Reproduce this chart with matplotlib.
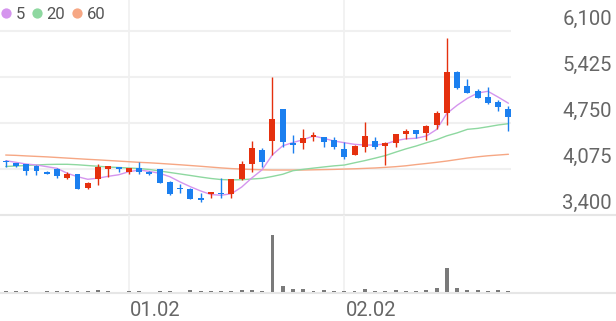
import matplotlib
matplotlib.use('Agg')
import matplotlib.pyplot as plt
import matplotlib.transforms as mtransforms
from matplotlib.lines import Line2D
import numpy as np

plt.rcParams['font.family'] = ['Roboto', 'DejaVu Sans']

# ---------------- data ----------------
opens = [4195, 4160, 4150, 4120, 4035, 4080, 3940, 3995, 3790, 3925,
         4075, 4100, 4025, 4085, 4035, 4075, 3890, 3795, 3785, 3655,
         3705, 3730, 3705, 3930, 4145, 4355, 4485, 4950, 4455, 4460,
         4550, 4550, 4500, 4365, 4280, 4400, 4490, 4415, 4460, 4590,
         4640, 4600, 4720, 4890, 5505, 5295, 5220, 5135, 5055, 4955]
highs = [4205, 4165, 4155, 4135, 4040, 4085, 4025, 4000, 3880, 4150,
         4125, 4105, 4090, 4175, 4040, 4080, 3895, 3860, 3790, 3720,
         3740, 3940, 3930, 4195, 4490, 4390, 5420, 4955, 4580, 4660,
         4620, 4550, 4540, 4465, 4420, 4770, 4540, 4465, 4595, 4660,
         4640, 4715, 4930, 6000, 5510, 5390, 5250, 5285, 5085, 5000]
lows = [4110, 4100, 3980, 3980, 3995, 3940, 3935, 3775, 3785, 3835,
        3960, 4035, 3995, 3995, 3980, 3865, 3700, 3720, 3635, 3590,
        3645, 3645, 3645, 3920, 4035, 4110, 4280, 4395, 4315, 4365,
        4490, 4400, 4365, 4215, 4275, 4330, 4365, 4135, 4400, 4510,
        4525, 4500, 4660, 4720, 5255, 5190, 5110, 5035, 4930, 4635]
closes = [4175, 4125, 4045, 4050, 3995, 3970, 3995, 3780, 3875, 4110,
          4125, 4075, 4085, 4035, 4000, 3870, 3705, 3780, 3640, 3615,
          3740, 3705, 3925, 4150, 4390, 4180, 4805, 4475, 4430, 4525,
          4575, 4475, 4400, 4245, 4415, 4560, 4395, 4460, 4590, 4635,
          4585, 4710, 4890, 5505, 5260, 5195, 5110, 5040, 4990, 4835]

ma5 = [4197, 4173, 4148, 4134, 4109, 4085, 4012, 3962, 3924, 3940,
       3968, 3990, 4035, 4060, 4040, 4012, 3962, 3885, 3815, 3753,
       3700, 3690, 3712, 3810, 3945, 4065, 4285, 4415, 4464, 4505,
       4560, 4525, 4486, 4461, 4437, 4427, 4427, 4442, 4490, 4518,
       4526, 4559, 4655, 4890, 5010, 5112, 5190, 5215, 5130, 5040]
ma20 = [4112, 4119, 4126, 4134, 4141, 4144, 4144, 4137, 4126, 4115,
        4104, 4097, 4090, 4082, 4068, 4046, 4024, 4002, 3980, 3957,
        3936, 3920, 3915, 3918, 3928, 3938, 3966, 3998, 4050, 4070,
        4088, 4105, 4121, 4133, 4166, 4198, 4234, 4272, 4322, 4370,
        4412, 4460, 4505, 4562, 4605, 4657, 4671, 4695, 4721, 4740]
ma60 = [4280, 4275, 4267, 4260, 4253, 4244, 4235, 4226, 4217, 4209,
        4200, 4191, 4182, 4173, 4166, 4157, 4147, 4137, 4126, 4115,
        4103, 4091, 4081, 4074, 4068, 4063, 4060, 4060, 4060, 4060,
        4063, 4066, 4069, 4074, 4078, 4084, 4090, 4099, 4109, 4122,
        4140, 4156, 4173, 4192, 4214, 4236, 4254, 4269, 4280, 4291]

volume = [1000, 1000, 1000, 800, 1000, 1000, 1000, 1300, 1000, 2000,
          1700, 500, 1000, 1300, 800, 1000, 1300, 800, 2000, 1300,
          1300, 1700, 1700, 2300, 2000, 1000, 57700, 6000, 3300, 3800,
          1500, 2700, 1300, 1300, 1000, 3000, 1000, 1500, 2200, 1000,
          1000, 2200, 4000, 24000, 4700, 2000, 2000, 1500, 2200, 1500]

y_ticks = [3400, 4075, 4750, 5425, 6100]
x_tick_idx = [12, 33]
x_tick_labels = ['01.02', '02.02']
ma_labels = ['5', '20', '60']

# ---------------- style ----------------
UP = '#e5300e'
DOWN = '#1b7fef'
MA_COLORS = ['#d595ee', '#8ed8a0', '#f6a784']
GRID = '#f0f0f0'
BASE = '#e6e6e6'
TXT = '#666666'

W, H = 616, 321
fig = plt.figure(figsize=(W / 100, H / 100), dpi=100)

plot_w = 511 / W
ax = fig.add_axes([0, (H - 215) / H, plot_w, 215 / H])
axv = fig.add_axes([0, (H - 293) / H, plot_w, 78 / H])

x = np.arange(len(closes))
o = np.array(opens); c = np.array(closes)
hi = np.array(highs); lo = np.array(lows)
up = c >= o
cols = np.where(up, UP, DOWN)

for a in (ax, axv):
    a.set_xlim(-0.556, 49.25)
    for s in a.spines.values():
        s.set_visible(False)
    a.set_xticks([]); a.set_yticks([])
    a.patch.set_alpha(0)
    for xi in x_tick_idx:
        a.axvline(xi, color=GRID, lw=1.2, zorder=0)

ax.set_ylim(3400, 6554.9)
axv.set_ylim(-600, 77400)

for yv in y_ticks[1:]:
    ax.axhline(yv, color=GRID, lw=1.5, zorder=0)

# full-width baseline lines (drawn beneath the marks)
tb = mtransforms.blended_transform_factory(fig.transFigure, ax.transData)
ax.add_line(Line2D([0, 1], [y_ticks[0], y_ticks[0]], transform=tb, color=BASE,
                   lw=1.5, clip_on=False, zorder=0.5))
tbv = mtransforms.blended_transform_factory(fig.transFigure, axv.transData)
axv.add_line(Line2D([0, 1], [-600, -600], transform=tbv, color=BASE, lw=1.5,
                    clip_on=False, zorder=0.5))

# moving averages
for vals, col in zip([ma60, ma20, ma5], MA_COLORS[::-1]):
    ax.plot(x, vals, color=col, lw=1.0, zorder=2, solid_capstyle='round')

# candles
ax.vlines(x, lo, hi, colors=cols, lw=1.0, zorder=3)
body_bottom = np.minimum(o, c)
body_h = np.maximum(np.abs(c - o), 12)
ax.bar(x, body_h, bottom=body_bottom, width=0.58, color=cols, zorder=4, linewidth=0)

# volume
axv.bar(x, volume, width=0.38, color='#7a7a7a', linewidth=0, zorder=3)

# y labels on the right
ty = mtransforms.offset_copy(tb, fig=fig, y=6, units='dots')
for yv in y_ticks:
    ax.text(612 / W, yv, f'{yv:,}', transform=ty, ha='right', va='baseline',
            fontsize=14.6, color=TXT, clip_on=False)

# x labels
tx = mtransforms.offset_copy(
    mtransforms.blended_transform_factory(axv.transData, fig.transFigure),
    fig=fig, x=1.5, units='dots')
for xi, lab in zip(x_tick_idx, x_tick_labels):
    axv.text(xi, (H - 316.5) / H, lab, transform=tx, ha='left', va='baseline',
             fontsize=14.6, color=TXT, clip_on=False)

# legend
handles = [Line2D([], [], marker='o', ls='', color=col, markersize=7.4,
                  markeredgewidth=0) for col in MA_COLORS]
fig.legend(handles, ma_labels, loc='upper left', bbox_to_anchor=(-6 / W, 1),
           bbox_transform=fig.transFigure, ncol=3, frameon=False,
           handlelength=0.6, handletextpad=0.3, columnspacing=0.4,
           borderaxespad=0, fontsize=12, labelcolor='#555555')

fig.savefig('out.png', dpi=100)
